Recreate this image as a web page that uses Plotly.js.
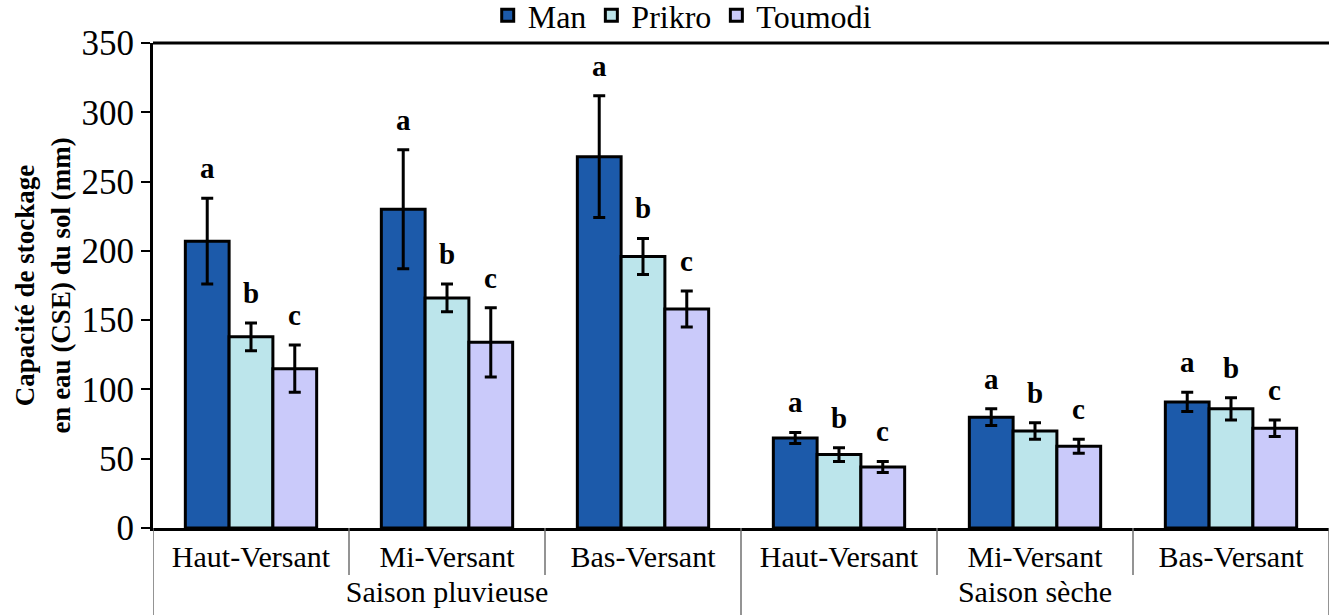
<!DOCTYPE html>
<html><head><meta charset="utf-8">
<script src="https://cdn.plot.ly/plotly-3.0.1.min.js"></script>
<style>html,body{margin:0;padding:0;background:#fff}</style>
</head><body><div id="chart" style="width:1330px;height:615px"></div>
<script>
const seasons = ["Saison pluvieuse","Saison pluvieuse","Saison pluvieuse","Saison sèche","Saison sèche","Saison sèche"];
const positions = ["Haut-Versant","Mi-Versant","Bas-Versant","Haut-Versant","Mi-Versant","Bas-Versant"];
const seriesNames = ["Man","Prikro","Toumodi"];
const manValues = [207,230,268,65,80,91];
const manErrors = [31,43,44,4,6,7];
const prikroValues = [138,166,196,53,70,86];
const prikroErrors = [10,10,13,5,6,8];
const toumodiValues = [115,134,158,44,59,72];
const toumodiErrors = [17,25,13,4,5,6];
const manLetters = ["a","a","a","a","a","a"];
const prikroLetters = ["b","b","b","b","b","b"];
const toumodiLetters = ["c","c","c","c","c","c"];
const yTicks = [0,50,100,150,200,250,300,350];

const serif = "Liberation Serif";
const bargap = 0.33;
const barW = (1 - bargap) / 3;

function mk(name, vals, errs, color) {
  return {
    type: "bar", name: name,
    x: [seasons, positions], y: vals,
    error_y: {type: "data", array: errs, visible: true, color: "#000", thickness: 3, width: 6},
    marker: {color: color, line: {color: "#000", width: 3}},
    hoverinfo: "y"
  };
}
const traces = [
  mk(seriesNames[0], manValues, manErrors, "#1c5aaa"),
  mk(seriesNames[1], prikroValues, prikroErrors, "#bce5eb"),
  mk(seriesNames[2], toumodiValues, toumodiErrors, "#cacafa")
];

const annotations = [];
const allVals = [manValues, prikroValues, toumodiValues];
const allErrs = [manErrors, prikroErrors, toumodiErrors];
const allLetters = [manLetters, prikroLetters, toumodiLetters];
for (let k = 0; k < 3; k++) {
  for (let i = 0; i < positions.length; i++) {
    annotations.push({
      x: i + (k - 1) * barW, y: allVals[k][i] + allErrs[k][i],
      xref: "x", yref: "y", text: "<b>" + allLetters[k][i] + "</b>",
      showarrow: false, yanchor: "middle", yshift: 30,
      font: {family: serif, size: 29, color: "#000"}
    });
  }
}

const shapes = [];
[0.5, 1.5, 3.5, 4.5].forEach(p => shapes.push({type: "line", xref: "x", yref: "paper", x0: p, x1: p, y0: 0, y1: -0.097, line: {color: "#707070", width: 1.5}}));
[-0.5, 2.5, 5.5].forEach(p => shapes.push({type: "line", xref: "x", yref: "paper", x0: p, x1: p, y0: 0, y1: -0.2, line: {color: "#707070", width: 1.5}}));
shapes.push({type: "line", xref: "paper", yref: "paper", x0: 0, x1: 1, y0: 1, y1: 1, line: {color: "#000", width: 3}});

const layout = {
  width: 1330, height: 615,
  margin: {l: 153, r: 1, t: 43, b: 87, autoexpand: false},
  paper_bgcolor: "#fff", plot_bgcolor: "#fff",
  barmode: "group", bargap: bargap, bargroupgap: 0,
  showlegend: true,
  legend: {orientation: "h", x: 0.45, xanchor: "center", y: 1.0, yanchor: "bottom",
    font: {family: serif, size: 32, color: "#000"}, itemwidth: 30, tracegroupgap: 0, bgcolor: "rgba(0,0,0,0)"},
  xaxis: {
    type: "multicategory", showdividers: false,
    showline: true, linecolor: "#000", linewidth: 3,
    ticks: "", tickfont: {family: serif, size: 30, color: "#000"},
    showgrid: false, zeroline: false, range: [-0.5, 5.5]
  },
  yaxis: {
    range: [0, 350], tickvals: yTicks, ticktext: yTicks.map(String),
    showline: true, linecolor: "#000", linewidth: 3,
    ticks: "outside", ticklen: 9, tickwidth: 2, tickcolor: "#000",
    tickfont: {family: serif, size: 35, color: "#000"},
    showgrid: false, zeroline: false,
    title: {text: "<b>Capacité de stockage<br>en eau (CSE) du sol (mm)</b>", font: {family: serif, size: 27, color: "#000"}, standoff: 4}
  },
  annotations: annotations, shapes: shapes
};
Plotly.newPlot("chart", traces, layout, {displayModeBar: false, staticPlot: true});
</script></body></html>
